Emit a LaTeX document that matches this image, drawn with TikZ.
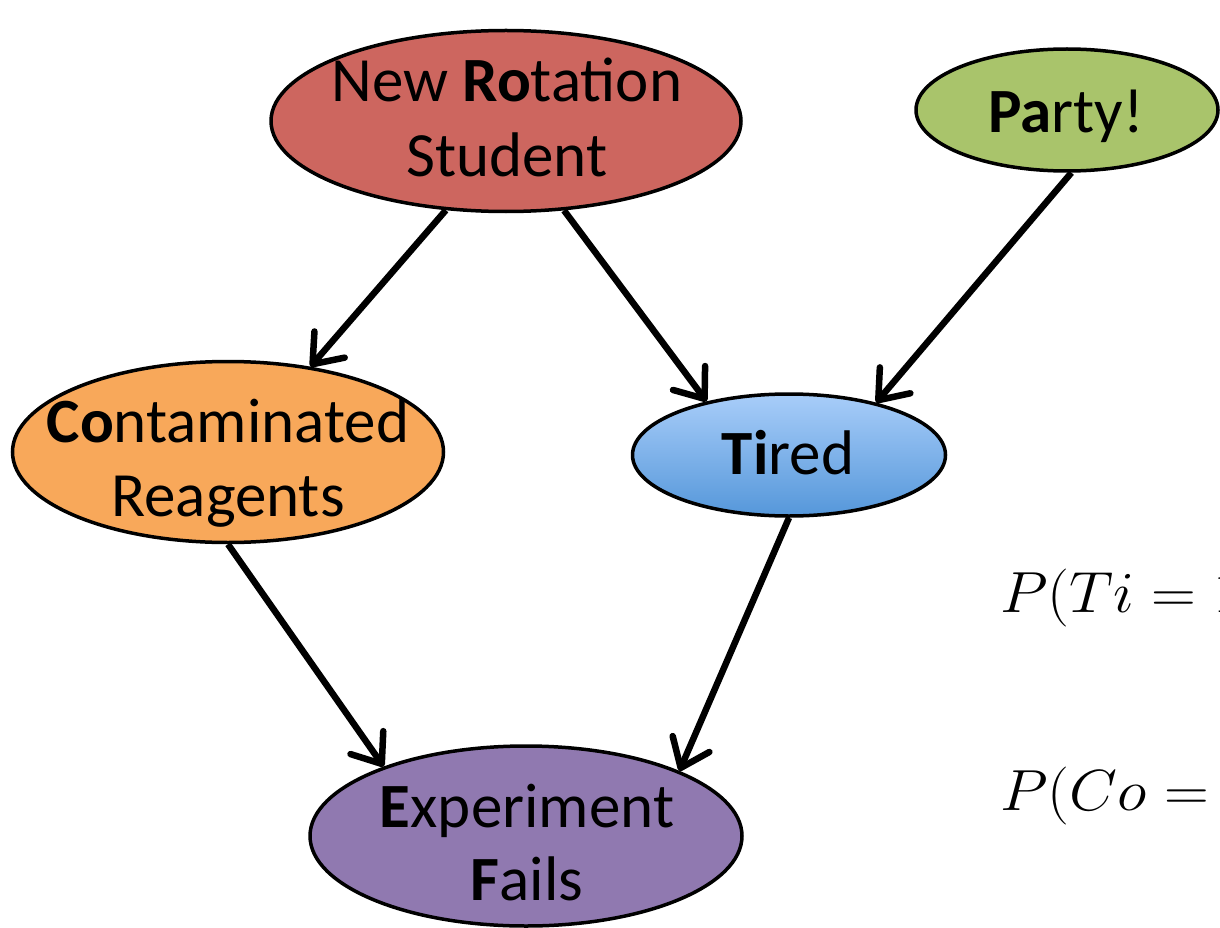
\RequirePackage{fix-cm}
\documentclass[tikz,border=0pt]{standalone}
\usepackage{fontspec}
\setmainfont{Carlito}
\usepackage{tikz}
\usetikzlibrary{shapes.geometric}
\usetikzlibrary{arrows.meta}
\definecolor{rotred}{HTML}{CD665F}
\definecolor{partygreen}{HTML}{A9C46B}
\definecolor{conorange}{HTML}{F8A85A}
\definecolor{exppurple}{HTML}{9079B0}
\definecolor{tiredtop}{HTML}{A8CDF9}
\definecolor{tiredbot}{HTML}{5597DA}
\tikzstyle{ell} = [ellipse, draw=black, line width=3.5pt, inner sep=0pt]
\tikzstyle{lbl} = [inner sep=0pt, anchor=base, font=\fontsize{63}{75}\selectfont]
\tikzstyle{prob} = [inner sep=0pt, anchor=base west, xscale=1.07, transform shape, font=\fontsize{58}{70}\selectfont]
\tikzstyle{arr} = [line width=6.5pt, -{Straight Barb[length=26pt,width=40pt,round]}]

\begin{document}
\begin{tikzpicture}[x=1pt,y=-1pt]
			\useasboundingbox (0,0) rectangle (1220,928);
			\clip (0,0) rectangle (1220,928);
			\node[ell, fill=rotred, minimum width=470pt, minimum height=181pt] (rot) at (506,121) {};
			\node[ell, fill=partygreen, minimum width=302pt, minimum height=122pt] (party) at (1067,110) {};
			\node[ell, top color=tiredtop, bottom color=tiredbot, minimum width=313pt, minimum height=122pt] (tired) at (789,455) {};
			\node[ell, fill=conorange, minimum width=431pt, minimum height=181pt] (con) at (228,452) {};
			\node[ell, fill=exppurple, minimum width=432pt, minimum height=180pt] (exp) at (526,836) {};
			\node[lbl] (rot-a) at (507,102) {New \textbf{Ro}tation};
			\node[lbl] (rot-b) at (507,177) {Student};
			\node[lbl] (party-a) at (1066,133) {\textbf{Pa}rty!};
			\node[lbl] (tired-a) at (788,474) {\textbf{Ti}red};
			\node[lbl] (con-a) at (228,442) {\textbf{Co}ntaminated};
			\node[lbl] (con-b) at (228,516) {Reagents};
			\node[lbl] (exp-a) at (527,827) {\textbf{E}xperiment};
			\node[lbl] (exp-b) at (527,900) {\textbf{F}ails};
			\node[prob] (p-ti) at (1000,612) {$P(Ti = 1$};
			\node[prob] (p-co) at (1000,810) {$P(Co =$};
			\draw[arr] (rot.-124) -- (con.46);
			\draw[arr] (rot.-57) -- (tired.147);
			\draw[arr] (party.-86) -- (tired.31);
			\draw[arr] (con.-90) -- (exp.154);
			\draw[arr] (tired.-90) -- (exp.23);
		\end{tikzpicture}
\end{document}
